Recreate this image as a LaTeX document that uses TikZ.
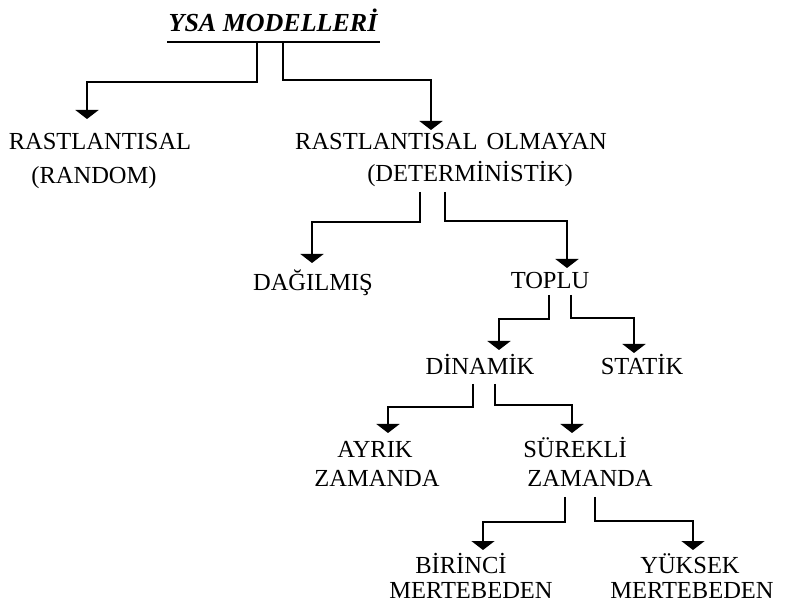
\documentclass[tikz,border=0pt]{standalone}
\usepackage{fontspec}
\setmainfont{Liberation Serif}
\usetikzlibrary{arrows.meta}
\tikzset{
  lbl/.style={anchor=base, inner sep=0pt, font=\fontsize{24.5}{24.5}\selectfont},
  ttl/.style={anchor=base, inner sep=0pt, font=\fontsize{26}{26}\selectfont\bfseries\itshape},
  conn/.style={line width=1.8pt, -{Triangle[width=23pt,length=9pt]}},
  uline/.style={line width=2pt}
}
\begin{document}
\begin{tikzpicture}[x=1pt,y=-1pt]
\useasboundingbox (0,0) rectangle (788,612);
% title
\node[ttl] (title) at (273,32) {YSA MODELLERİ};
\coordinate (ulL) at (167,42);
\coordinate (ulR) at (380,42);
\draw[uline] (ulL) -- (ulR);
% text nodes
\node[lbl] (rand1) at (100,150) {RASTLANTISAL};
\node[lbl] (rand2) at (94,184) {(RANDOM)};
\node[lbl] (det1) at (451,150) {RASTLANTISAL\hspace{9pt}OLMAYAN};
\node[lbl] (det2) at (470,182) {(DETERMİNİSTİK)};
\node[lbl] (dag) at (313,291) {DAĞILMIŞ};
\node[lbl] (toplu) at (550,289) {TOPLU};
\node[lbl] (din) at (480,375) {DİNAMİK};
\node[lbl] (stat) at (642,375) {STATİK};
\node[lbl] (ayr1) at (375,458) {AYRIK};
\node[lbl] (ayr2) at (377,487) {ZAMANDA};
\node[lbl] (sur1) at (575,458) {SÜREKLİ};
\node[lbl] (sur2) at (590,487) {ZAMANDA};
\node[lbl] (bir1) at (461,573) {BİRİNCİ};
\node[lbl] (bir2) at (471,598) {MERTEBEDEN};
\node[lbl] (yuk1) at (690,573) {YÜKSEK};
\node[lbl] (yuk2) at (692,598) {MERTEBEDEN};
% connector start points and tips
\coordinate (s1) at (257,42);  \coordinate (m1) at (87,82);   \coordinate (t1) at (87,119);
\coordinate (s2) at (283,42);  \coordinate (m2) at (431,80);  \coordinate (t2) at (431,130);
\coordinate (s3) at (420,192); \coordinate (m3) at (312,222); \coordinate (t3) at (312,263);
\coordinate (s4) at (445,192); \coordinate (m4) at (567,221); \coordinate (t4) at (567,268);
\coordinate (s5) at (549,295); \coordinate (m5) at (499,319); \coordinate (t5) at (499,350);
\coordinate (s6) at (571,295); \coordinate (m6) at (634,318); \coordinate (t6) at (634,353);
\coordinate (s7) at (473,384); \coordinate (m7) at (388,407); \coordinate (t7) at (388,433);
\coordinate (s8) at (495,384); \coordinate (m8) at (572,405); \coordinate (t8) at (572,433);
\coordinate (s9) at (565,497); \coordinate (m9) at (483,522); \coordinate (t9) at (483,550);
\coordinate (s10) at (595,497); \coordinate (m10) at (693,521); \coordinate (t10) at (693,550);
\foreach \i in {1,...,10}{
  \draw[conn] (s\i) |- (m\i) -- (t\i);
}
\end{tikzpicture}
\end{document}
